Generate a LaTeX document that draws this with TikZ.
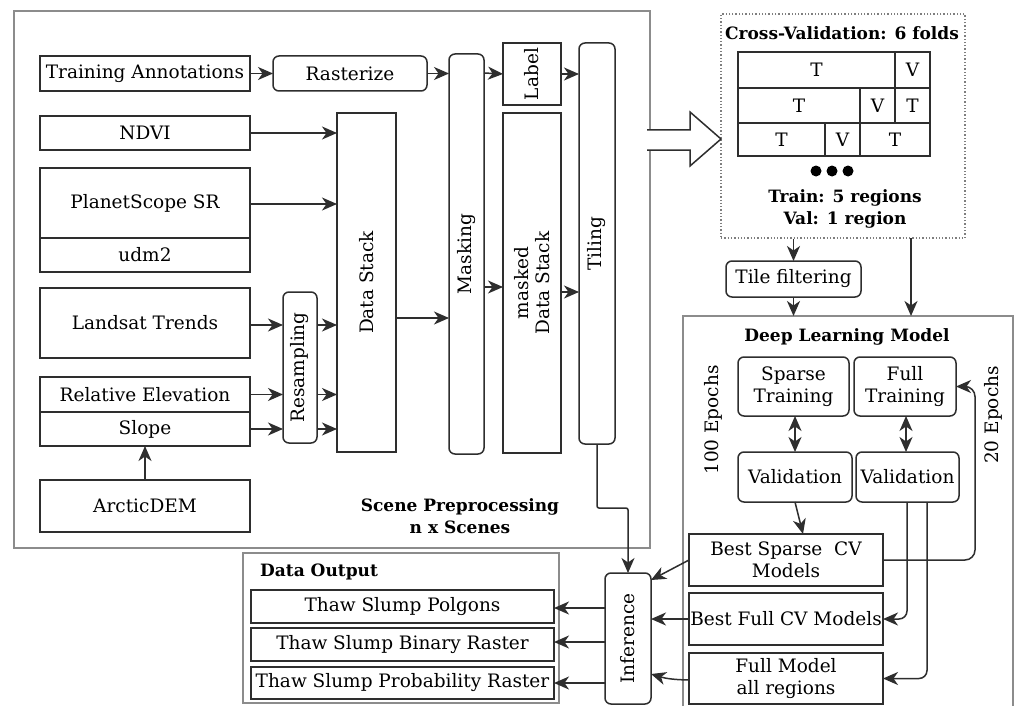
\documentclass[tikz,border=0pt]{standalone}
\usepackage{fontspec}
\setmainfont{DejaVu Serif}
\usetikzlibrary{arrows.meta,backgrounds,calc}
\definecolor{boxc}{HTML}{2E2E2E}
\definecolor{grpc}{HTML}{8C8C8C}
\newcommand\mf{\fontsize{18.5}{21.5}\selectfont}
\newcommand\bff{\fontsize{17}{21.5}\selectfont\bfseries}
\tikzset{
  box/.style={draw=boxc, line width=1.5pt, fill=white, inner sep=0pt, outer sep=0pt, align=center, font=\mf},
  rbox/.style={box, rounded corners=6pt},
  grp/.style={draw=grpc, line width=1.6pt, inner sep=0pt, outer sep=0pt},
  tip/.tip={Stealth[length=15pt,width=13pt,inset=4.5pt]},
  arr/.style={-tip, line width=1.5pt, draw=boxc},
  darr/.style={tip-tip, line width=1.5pt, draw=boxc},
  cell/.style={draw=boxc, line width=1.7pt, inner sep=0pt, outer sep=0pt, font=\mf},
  ttl/.style={font=\bff, inner sep=0pt, align=center},
}
\begin{document}
\begin{tikzpicture}[x=1pt,y=-1pt]
\useasboundingbox (0,0) rectangle (1014,706);
\fill[white] (0,0) rectangle (1014,706);
% group boxes
\node[grp, minimum width=636pt, minimum height=537pt] (scene) at (332,279.5) {};
\node[grp, minimum width=316pt, minimum height=150pt] (dout) at (401,628) {};
\draw[grp] (683,716) |- (1013,316) -- (1013,716);
\coordinate (dlmtop) at (848,316);
\node[draw=grpc!90!black, dotted, line width=1.3pt, inner sep=0pt, minimum width=244pt, minimum height=224pt] (cv) at (843,126) {};

% inputs
\node[box, minimum width=210pt, minimum height=35pt] (ta) at (145,73.5) {Training Annotations};
\node[rbox, minimum width=154pt, minimum height=35pt] (rast) at (350,73.5) {Rasterize};
\node[box, minimum width=210pt, minimum height=34pt] (ndvi) at (145,133) {NDVI};
\node[box, minimum width=210pt, minimum height=70pt] (ps) at (145,203) {PlanetScope SR};
\node[box, minimum width=210pt, minimum height=34pt] (udm) at (145,255) {udm2};
\node[box, minimum width=210pt, minimum height=70pt] (lt) at (145,323) {Landsat Trends};
\node[box, minimum width=210pt, minimum height=35pt] (re) at (145,394.5) {Relative Elevation};
\node[box, minimum width=210pt, minimum height=34pt] (slope) at (145,429) {Slope};
\node[box, minimum width=210pt, minimum height=52pt] (adem) at (145,506) {ArcticDEM};

% processing columns
\node[rbox, minimum width=151pt, minimum height=34pt, rotate=90] (resamp) at (300,367.5) {Resampling};
\node[rbox, minimum width=400pt, minimum height=35pt, rotate=90] (mask) at (466.5,254) {Masking};
\begin{scope}[on background layer]
\draw[arr] (udm.east) -- (mask.north |- udm.east);
\end{scope}
\node[box, minimum width=339pt, minimum height=59pt, rotate=90] (ds) at (366.5,282.5) {Data Stack};
\node[box, minimum width=62pt, minimum height=58pt, rotate=90] (label) at (532,74) {Label};
\node[box, minimum width=340pt, minimum height=58pt, rotate=90] (mds) at (532,283) {masked\\Data Stack};
\node[rbox, minimum width=401pt, minimum height=36pt, rotate=90] (tiling) at (597,243.5) {Tiling};

\node[ttl] (scenettl) at (460,516) {Scene Preprocessing\\n x Scenes};

% arrows scene
\draw[arr] (ta.east) -- (rast.west);
\draw[arr] (rast.east) -- (rast.east -| mask.north);
\draw[arr] ($(mask.south)+(0,-181)$) -- (label.north);
\draw[arr] (label.south) -- (label.south -| tiling.north);
\draw[arr] (ndvi.east) -- (ndvi.east -| ds.north);
\draw[arr] ($(ps.east)+(0,1)$) -- ($(ps.east -| ds.north)+(0,1)$);
\draw[arr] ($(ds.south)+(0,35.5)$) -- ($(ds.south -| mask.north)+(0,35.5)$);
\draw[arr] ($(lt.east)+(0,2)$) -- ($(lt.east -| resamp.north)+(0,2)$);
\draw[arr] (re.east) -- (re.east -| resamp.north);
\draw[arr] (slope.east) -- (slope.east -| resamp.north);
\draw[arr] ($(resamp.south |- lt.east)+(0,2)$) -- ($(ds.north |- lt.east)+(0,2)$);
\draw[arr] (resamp.south |- re.east) -- (ds.north |- re.east);
\draw[arr] (resamp.south |- slope.east) -- (ds.north |- slope.east);
\draw[arr] (adem.north) -- (slope.south);
\draw[arr] ($(mask.south)+(0,33)$) -- ($(mask.south -| mds.north)+(0,33)$);
\draw[arr] ($(mds.south)+(0,9)$) -- ($(mds.south -| tiling.north)+(0,9)$);

% big hollow arrow
\draw[boxc, line width=1.5pt, fill=white, line join=miter] (647,130) -- (690,130) -- (690,112) -- (721,139) -- (690,166) -- (690,150) -- (647,150);

% cross validation table
\node[ttl] (cvttl) at (842,33) {Cross-Validation: 6 folds};
\node[cell, minimum width=157pt, minimum height=36pt] (c11) at (816.5,70) {T};
\node[cell, minimum width=35pt, minimum height=36pt] (c12) at (912.5,70) {V};
\node[cell, minimum width=122pt, minimum height=35pt] (c21) at (799,105.5) {T};
\node[cell, minimum width=35pt, minimum height=35pt] (c22) at (877.5,105.5) {V};
\node[cell, minimum width=35pt, minimum height=35pt] (c23) at (912.5,105.5) {T};
\node[cell, minimum width=87pt, minimum height=33pt] (c31) at (781.5,139.5) {T};
\node[cell, minimum width=35pt, minimum height=33pt] (c32) at (842.5,139.5) {V};
\node[cell, minimum width=70pt, minimum height=33pt] (c33) at (895,139.5) {T};
\fill[black] (816,171) circle (5.5pt) (832,171) circle (5.5pt) (848,171) circle (5.5pt);
\node[ttl] (cvtxt) at (845,209) {Train: 5 regions\\Val: 1 region};

\node[rbox, minimum width=135pt, minimum height=36pt] (tf) at (793.5,279) {Tile filtering};
\draw[arr] (cv.south -| tf.north) -- (tf.north);
\draw[arr] (tf.south) -- (tf.south |- dlmtop);
\draw[arr] (911,238) -- (911,316);

% deep learning model
\node[ttl] (dlmttl) at (847,337) {Deep Learning Model};
\node[rbox, minimum width=111pt, minimum height=59pt] (st) at (793.5,386.5) {Sparse\\Training};
\node[rbox, minimum width=102pt, minimum height=59pt] (ft) at (905,386.5) {Full\\Training};
\node[rbox, minimum width=114pt, minimum height=50pt] (v1) at (795,477) {Validation};
\node[rbox, minimum width=103pt, minimum height=50pt] (v2) at (907.5,477) {Validation};
\node[font=\mf, rotate=90, inner sep=0pt] (e100) at (713,420) {100 Epochs};
\node[font=\mf, rotate=90, inner sep=0pt] (e20) at (993,415) {20 Epochs};
\node[box, minimum width=194pt, minimum height=52pt] (bs) at (786,560) {Best Sparse\ \ CV\\Models};
\node[box, minimum width=194pt, minimum height=52pt] (bf) at (786,619) {Best Full CV Models};
\node[box, minimum width=194pt, minimum height=51pt] (fm) at (786,678.5) {Full Model\\all regions};

\draw[darr] (st.south -| v1.north) -- (v1.north);
\draw[darr] ($(ft.south)+(1,0)$) -- ($(v2.north)+(-1.5,0)$);
\draw[arr] (v1.south) -- ($(bs.north)+(17,0)$);
\draw[arr, rounded corners=10pt] (bs.east) -- (975,560) -- (975,386.5) -- (ft.east);
\draw[arr, rounded corners=8pt] ($(v2.south)+(-0.5,0)$) -- (907,619) -- (bf.east);
\draw[arr, rounded corners=8pt] ($(v2.south)+(19.5,0)$) -- (927,678.5) -- (fm.east);

% inference and outputs
\node[rbox, minimum width=131pt, minimum height=46pt, rotate=90] (inf) at (628,638.5) {Inference};
\draw[arr, rounded corners=2pt] (tiling.west) -- ++(0,64) -| (inf.east);
\draw[arr] (bs.west) -- ($(inf.south)+(0,-58.5)$);
\draw[arr] (bf.west) -- (bf.west -| inf.south);
\draw[arr] ($(fm.west)+(0,1.5)$) to[bend left=8] ($(inf.south)+(0,35.5)$);

\node[font=\bff, anchor=west, inner sep=0pt] (dottl) at (260,572) {Data Output};
\node[box, minimum width=303pt, minimum height=33pt] (o1) at (402.5,606.5) {Thaw Slump Polgons};
\node[box, minimum width=303pt, minimum height=33pt] (o2) at (402.5,644.5) {Thaw Slump Binary Raster};
\node[box, minimum width=303pt, minimum height=32pt] (o3) at (402.5,683) {Thaw Slump Probability Raster};
\draw[arr] ($(inf.north |- o1.east)+(0,1.5)$) -- ($(o1.east)+(0,1.5)$);
\draw[arr] ($(inf.north |- o2.east)+(0,-2.5)$) -- ($(o2.east)+(0,-2.5)$);
\draw[arr] (inf.north |- o3.east) -- (o3.east);
\end{tikzpicture}
\end{document}
